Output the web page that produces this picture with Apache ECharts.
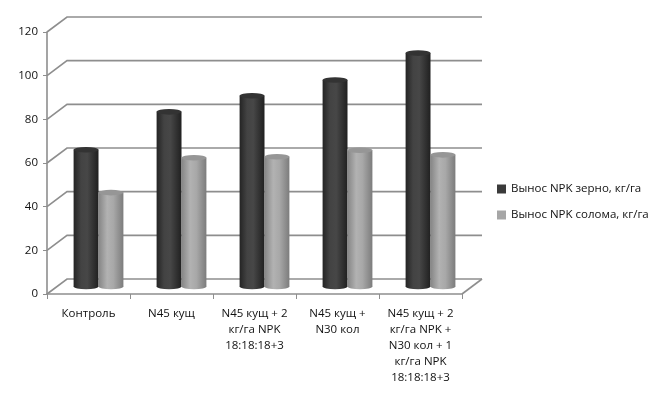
<!DOCTYPE html>
<html>
<head>
<meta charset="utf-8">
<script src="https://cdn.jsdelivr.net/npm/echarts@6/dist/echarts.min.js"></script>
<style>
  html, body {margin: 0; padding: 0; background: #fff;}
  #chart {width: 657px; height: 396px;}
</style>
</head>
<body>
<div id="chart"></div>
<script>
const categories = [
  'Контроль',
  'N45 кущ',
  'N45 кущ + 2\nкг/га NPK\n18:18:18+3',
  'N45 кущ +\nN30 кол',
  'N45 кущ + 2\nкг/га NPK +\nN30 кол + 1\nкг/га NPK\n18:18:18+3'
];
const grain = [62.6, 80.0, 87.4, 94.6, 106.9];
const straw = [43.0, 59.0, 59.4, 62.4, 60.3];
const yTicks = [0, 20, 40, 60, 80, 100, 120];
const seriesNames = ['Вынос NPK зерно, кг/га', 'Вынос NPK солома, кг/га'];

// depth of the fake 3d box
const DX = 20, DY = -15;
const font = 'Open Sans';

const chart = echarts.init(document.getElementById('chart'));

// back wall + side wall gridlines
function renderWall(params, api) {
  const cs = params.coordSys;
  const v = api.value(1);
  const y = api.coord([0, v])[1];
  const lineStyle = {stroke: '#8e8e8e', lineWidth: 1.6, fill: null};
  const children = [{
    type: 'polyline',
    shape: {points: [[cs.x, y], [cs.x + DX, y + DY], [cs.x + cs.width + DX, y + DY]]},
    style: lineStyle
  }];
  if (v === 0) {
    children.push({
      type: 'line',
      shape: {x1: cs.x + cs.width, y1: y, x2: cs.x + cs.width + DX, y2: y + DY},
      style: lineStyle
    });
  }
  return {type: 'group', children: children};
}

function cylinder(side, body, top) {
  return function (params, api) {
    const i = api.value(0);
    const v = api.value(1);
    const p = api.coord([i, v]);
    const p0 = api.coord([i, 0]);
    const bw = api.size([1, 0])[0] * 0.3;
    const cx = p[0] + DX / 2 + side * bw / 2;
    const yTop = p[1] + DY / 2;
    const yBase = p0[1] + DY / 2;
    const r = bw / 2;
    const ry = 2.8;
    const grad = {
      type: 'linear', x: 0, y: 0, x2: 1, y2: 0,
      colorStops: body
    };
    return {
      type: 'group',
      children: [
        {type: 'circle', x: cx, y: yBase, scaleY: ry / r, shape: {cx: 0, cy: 0, r: r}, style: {fill: grad}},
        {type: 'rect', shape: {x: cx - r, y: yTop, width: bw, height: yBase - yTop}, style: {fill: grad}},
        {type: 'circle', x: cx, y: yTop, scaleY: ry / r, shape: {cx: 0, cy: 0, r: r}, style: {fill: top}}
      ]
    };
  };
}

const darkBody = [
  {offset: 0, color: '#242424'}, {offset: 0.3, color: '#434343'},
  {offset: 0.55, color: '#474747'}, {offset: 1, color: '#202020'}
];
const lightBody = [
  {offset: 0, color: '#858585'}, {offset: 0.35, color: '#b2b2b2'},
  {offset: 0.6, color: '#a8a8a8'}, {offset: 1, color: '#7c7c7c'}
];

const option = {
  backgroundColor: '#fff',
  animation: false,
  textStyle: {fontFamily: font},
  grid: {left: 47, right: 195, top: 32, bottom: 102},
  legend: {
    orient: 'vertical',
    left: 492,
    top: 178,
    itemWidth: 9,
    itemHeight: 9,
    itemGap: 14,
    icon: 'rect',
    data: seriesNames,
    textStyle: {fontSize: 11.5, color: '#111', fontFamily: font}
  },
  xAxis: {
    type: 'category',
    data: categories,
    axisLine: {lineStyle: {color: '#8e8e8e', width: 1.6}},
    axisTick: {show: true, length: 5, lineStyle: {color: '#8e8e8e'}},
    axisLabel: {interval: 0, margin: 12, fontSize: 11.5, lineHeight: 16, color: '#111'}
  },
  yAxis: {
    type: 'value',
    min: 0,
    max: 120,
    interval: 20,
    axisLine: {show: true, lineStyle: {color: '#8e8e8e', width: 1.6}},
    axisTick: {show: true, length: 4, lineStyle: {color: '#8e8e8e'}},
    axisLabel: {margin: 9, fontSize: 11.5, color: '#111'},
    splitLine: {show: false}
  },
  series: [
    {
      type: 'custom',
      name: 'wall',
      silent: true,
      z: 1,
      renderItem: renderWall,
      encode: {x: 0, y: 1},
      data: yTicks.map(v => [0, v])
    },
    {
      type: 'custom',
      name: seriesNames[0],
      z: 3,
      itemStyle: {color: '#3a3a3a'},
      renderItem: cylinder(-1, darkBody, '#333333'),
      encode: {x: 0, y: 1},
      data: grain.map((v, i) => [i, v])
    },
    {
      type: 'custom',
      name: seriesNames[1],
      z: 4,
      itemStyle: {color: '#a6a6a6'},
      renderItem: cylinder(1, lightBody, '#969696'),
      encode: {x: 0, y: 1},
      data: straw.map((v, i) => [i, v])
    }
  ]
};

chart.setOption(option);
</script>
</body>
</html>
